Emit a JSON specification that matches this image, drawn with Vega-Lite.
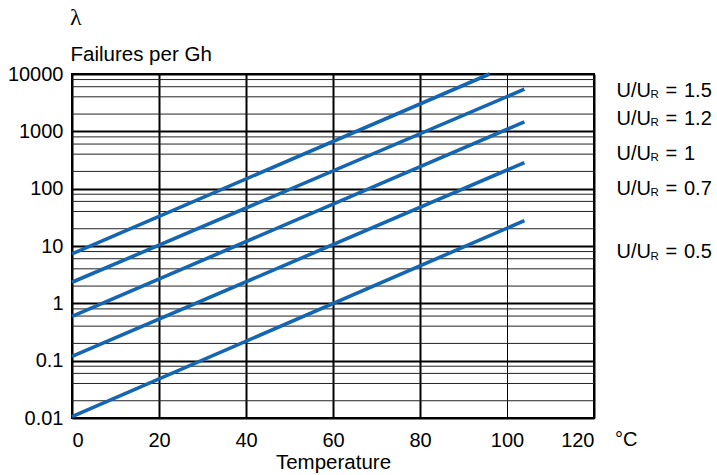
{
  "$schema": "https://vega.github.io/schema/vega-lite/v6.json",
  "width": 522,
  "height": 344,
  "autosize": "none",
  "padding": {"left": 72, "top": 74, "right": 123, "bottom": 57},
  "background": "white",
  "config": {
    "font": "Liberation Sans",
    "view": {"stroke": "black", "strokeWidth": 2}
  },
  "datasets": {
    "curves": [
      {"series": "1.5", "temp": 0, "rate": 7.3},
      {"series": "1.5", "temp": 96, "rate": 10000},
      {"series": "1.2", "temp": 0, "rate": 2.33},
      {"series": "1.2", "temp": 104, "rate": 5430},
      {"series": "1", "temp": 0, "rate": 0.59},
      {"series": "1", "temp": 104, "rate": 1466},
      {"series": "0.7", "temp": 0, "rate": 0.119},
      {"series": "0.7", "temp": 104, "rate": 285},
      {"series": "0.5", "temp": 0, "rate": 0.0106},
      {"series": "0.5", "temp": 104, "rate": 27.7}
    ],
    "minor": [
      {"rate": 0.02}, {"rate": 0.04}, {"rate": 0.06}, {"rate": 0.08},
      {"rate": 0.2}, {"rate": 0.4}, {"rate": 0.6}, {"rate": 0.8},
      {"rate": 2}, {"rate": 4}, {"rate": 6}, {"rate": 8},
      {"rate": 20}, {"rate": 40}, {"rate": 60}, {"rate": 80},
      {"rate": 200}, {"rate": 400}, {"rate": 600}, {"rate": 800},
      {"rate": 2000}, {"rate": 4000}, {"rate": 6000}, {"rate": 8000}
    ],
    "labels": [
      {"ratio": "1.5", "temp": 120, "rate": 4000},
      {"ratio": "1.2", "temp": 120, "rate": 1300},
      {"ratio": "1", "temp": 120, "rate": 320},
      {"ratio": "0.7", "temp": 120, "rate": 78},
      {"ratio": "0.5", "temp": 120, "rate": 6.1}
    ],
    "unit": [{"temp": 120, "rate": 0.01, "u": "°C"}],
    "symbol": [{"temp": 0, "rate": 10000, "u": "λ"}]
  },
  "layer": [
    {
      "data": {"name": "minor"},
      "mark": {"type": "rule", "color": "#222222", "strokeWidth": 1},
      "encoding": {
        "y": {"field": "rate", "type": "quantitative", "scale": {"type": "log", "domain": [0.01, 10000]}}
      }
    },
    {
      "data": {"name": "curves"},
      "mark": {"type": "line", "color": "#1466b0", "strokeWidth": 3.6, "strokeCap": "butt"},
      "encoding": {
        "x": {
          "field": "temp", "type": "quantitative",
          "scale": {"domain": [0, 120], "nice": false, "zero": false},
          "axis": {
            "values": [0, 20, 40, 60, 80, 100, 120],
            "grid": true, "gridColor": "black",
            "gridWidth": {"condition": {"test": "datum.value == 100", "value": 1}, "value": 2},
            "gridOpacity": 1,
            "domain": false, "ticks": false,
            "labelFontSize": 20, "labelColor": "black", "labelPadding": 12,
            "title": "Temperature", "titleFontSize": 20.5, "titleFontWeight": "normal",
            "titleColor": "black", "titlePadding": 2
          }
        },
        "y": {
          "field": "rate", "type": "quantitative",
          "scale": {"type": "log", "domain": [0.01, 10000]},
          "axis": {
            "values": [0.01, 0.1, 1, 10, 100, 1000, 10000],
            "labelExpr": "format(datum.value, '~g')",
            "grid": true, "gridColor": "black", "gridWidth": 2, "gridOpacity": 1,
            "domain": false, "ticks": false,
            "labelFontSize": 20, "labelColor": "black", "labelPadding": 9,
            "title": "Failures per Gh", "titleAngle": 0, "titleAlign": "left",
            "titleBaseline": "alphabetic", "titleX": -2, "titleY": -14,
            "titleFontSize": 20.5, "titleFontWeight": "normal", "titleColor": "black"
          }
        },
        "detail": {"field": "series"}
      }
    },
    {
      "data": {"name": "labels"},
      "mark": {"type": "text", "text": "U/U", "align": "left", "baseline": "alphabetic", "dx": 22.5, "fontSize": 20, "color": "black"},
      "encoding": {
        "x": {"field": "temp", "type": "quantitative"},
        "y": {"field": "rate", "type": "quantitative"}
      }
    },
    {
      "data": {"name": "labels"},
      "mark": {"type": "text", "text": "R", "align": "left", "baseline": "alphabetic", "dx": 56.5, "dy": 1.5, "fontSize": 11.5, "color": "black"},
      "encoding": {
        "x": {"field": "temp", "type": "quantitative"},
        "y": {"field": "rate", "type": "quantitative"}
      }
    },
    {
      "data": {"name": "labels"},
      "mark": {"type": "text", "text": "=", "align": "left", "baseline": "alphabetic", "dx": 71.5, "fontSize": 20, "color": "black"},
      "encoding": {
        "x": {"field": "temp", "type": "quantitative"},
        "y": {"field": "rate", "type": "quantitative"}
      }
    },
    {
      "data": {"name": "labels"},
      "mark": {"type": "text", "align": "left", "baseline": "alphabetic", "dx": 90, "fontSize": 20, "color": "black"},
      "encoding": {
        "x": {"field": "temp", "type": "quantitative"},
        "y": {"field": "rate", "type": "quantitative"},
        "text": {"field": "ratio", "type": "nominal"}
      }
    },
    {
      "data": {"name": "unit"},
      "mark": {"type": "text", "align": "left", "baseline": "alphabetic", "dx": 21, "dy": 28, "fontSize": 20, "color": "black"},
      "encoding": {
        "x": {"field": "temp", "type": "quantitative"},
        "y": {"field": "rate", "type": "quantitative"},
        "text": {"field": "u", "type": "nominal"}
      }
    },
    {
      "data": {"name": "symbol"},
      "mark": {"type": "text", "align": "left", "baseline": "alphabetic", "dx": -2, "dy": -49, "fontSize": 24, "font": "Liberation Serif", "color": "black"},
      "encoding": {
        "x": {"field": "temp", "type": "quantitative"},
        "y": {"field": "rate", "type": "quantitative"},
        "text": {"field": "u", "type": "nominal"}
      }
    }
  ]
}
